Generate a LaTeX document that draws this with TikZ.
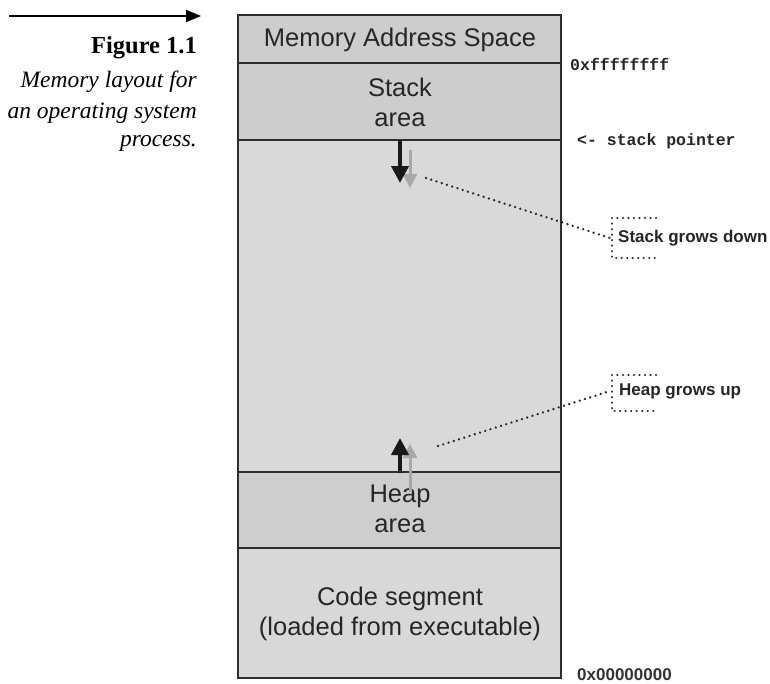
\documentclass[tikz,border=0pt]{standalone}
\usepackage{fontspec}
\setmainfont{Liberation Serif}
\setsansfont{Liberation Sans}
\setmonofont{Liberation Mono}
\usetikzlibrary{arrows.meta}
\definecolor{segdark}{HTML}{CDCDCD}
\definecolor{seglight}{HTML}{D9D9D9}
\definecolor{edge}{HTML}{2E2E2E}
\definecolor{ghost}{HTML}{A8A8A8}
\begin{document}
\begin{tikzpicture}[x=1pt,y=-1pt,
  seg/.style={draw=edge,line width=2.2pt},
  segtext/.style={font=\sffamily\fontsize{25.5}{30}\selectfont,text=black!85,align=center},
  addr/.style={font=\ttfamily\bfseries\fontsize{16.5}{18}\selectfont,anchor=west,text=black!85,inner sep=0pt},
  note/.style={font=\sffamily\bfseries\fontsize{17}{19}\selectfont,anchor=west,text=black!85,inner sep=0pt},
  capt/.style={anchor=east,inner sep=0pt},
  growarrow/.style={-{Triangle[length=17pt,width=17pt]},line width=4pt,draw=black!90},
  ghostarrow/.style={-{Triangle[length=14pt,width=14pt]},line width=3pt,draw=ghost},
  leader/.style={dash pattern=on 0.01pt off 5.5pt,line width=2.6pt,line cap=round,draw=black!85},
]
\useasboundingbox (0,0) rectangle (770,683);

% caption
\coordinate (ca) at (9,16);
\coordinate (cb) at (201,16);
\draw[line width=1.8pt,-{Triangle[length=15pt,width=12pt]}] (ca) -- (cb);
\node[capt,font=\bfseries\fontsize{24.5}{30}\selectfont] (fig) at (197,48) {Figure 1.1};
\node[capt,font=\itshape\fontsize{23.5}{30}\selectfont] (c1) at (197,82) {Memory layout for};
\node[capt,font=\itshape\fontsize{23.5}{30}\selectfont] (c2) at (197,113) {an operating system};
\node[capt,font=\itshape\fontsize{23.5}{30}\selectfont] (c3) at (197,143) {process.};

% memory segments
\fill[segdark] (238,15) rectangle (561,140);
\fill[seglight] (238,140) rectangle (561,472);
\fill[segdark!98!white] (238,472) rectangle (561,548);
\fill[seglight!95!segdark] (238,548) rectangle (561,678);
\draw[seg] (238,15) rectangle (561,678);
\draw[seg] (238,63) -- (561,63);
\draw[seg] (238,140) -- (561,140);
\draw[seg] (238,472) -- (561,472);
\draw[seg] (238,548) -- (561,548);

\node[segtext] (title) at (400,40) {Memory Address Space};
\node[segtext] (stack) at (400,102) {Stack\\area};
\node[segtext] (heap) at (400,509) {Heap\\area};
\node[segtext] (code) at (400,614) {Code segment\\(loaded from executable)};

% growth arrows
\coordinate (sg1) at (410,150);
\coordinate (sg2) at (410,188);
\draw[ghostarrow] (sg1) -- (sg2);
\coordinate (s1) at (400,140);
\coordinate (s2) at (400,183);
\draw[growarrow] (s1) -- (s2);
\coordinate (hg1) at (410,492);
\coordinate (hg2) at (410,444);
\draw[ghostarrow] (hg1) -- (hg2);
\coordinate (h1) at (400,473);
\coordinate (h2) at (400,438);
\draw[growarrow] (h1) -- (h2);

% address labels
\node[addr] (top) at (570,64) {0xffffffff};
\node[addr] (sp) at (577,141) {<- stack pointer};
\node[font=\sffamily\bfseries\fontsize{17}{19}\selectfont,anchor=west,text=black!80,inner sep=0pt] (bot) at (577,675) {0x00000000};

% callouts
\node[note] (sgd) at (618,238) {Stack grows down};
\node[note] (hgu) at (619,391) {Heap grows up};
\draw[leader] (656,218) -- (612,218) -- (612,258) -- (656,258);
\draw[leader] (656,375) -- (612,375) -- (612,411) -- (656,411);
\coordinate (sl) at (426,178);
\coordinate (sr) at (610,238);
\draw[leader] (sl) -- (sr);
\coordinate (hl) at (438,446);
\coordinate (hr) at (610,391);
\draw[leader] (hl) -- (hr);
\end{tikzpicture}
\end{document}
